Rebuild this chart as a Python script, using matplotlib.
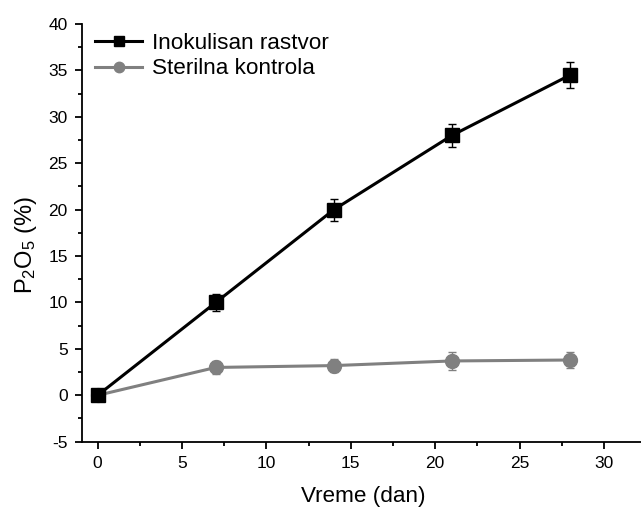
import matplotlib
matplotlib.use("Agg")
import matplotlib.pyplot as plt
from matplotlib.ticker import MultipleLocator, FuncFormatter
from matplotlib.lines import Line2D

plt.rcParams['font.family'] = ['Liberation Sans', 'DejaVu Sans']
plt.rcParams['mathtext.fontset'] = 'custom'
plt.rcParams['mathtext.rm'] = 'Liberation Sans'
plt.rcParams['mathtext.it'] = 'Liberation Sans'

days = [0, 7, 14, 21, 28]
inok = [0, 10, 20, 28, 34.5]
inok_err = [0, 0.9, 1.2, 1.2, 1.4]
ster = [0, 3, 3.2, 3.7, 3.8]
ster_err = [0, 0.7, 0.7, 1.0, 0.9]
labels = ["Inokulisan rastvor", "Sterilna kontrola"]

W, H = 641, 508
fig = plt.figure(figsize=(W/100, H/100), dpi=100)
left, right, top, bottom = 81.7, 641, 24, 441.7
ax = fig.add_axes([left/W, 1-bottom/H, (right-left)/W, (bottom-top)/H])

ax.errorbar(days, inok, yerr=inok_err, color='black', lw=2.2, marker='s', ms=9.5,
            capsize=3, elinewidth=1, ecolor='black', zorder=3)
ax.errorbar(days, ster, yerr=ster_err, color='#808080', lw=2.2, marker='o', ms=10,
            capsize=3, elinewidth=1, ecolor='#808080', zorder=2)

ax.set_xlim(-0.946, 32.2)
ax.set_ylim(-5, 40)
ax.xaxis.set_major_locator(MultipleLocator(5))
ax.xaxis.set_minor_locator(MultipleLocator(2.5))
ax.yaxis.set_major_locator(MultipleLocator(5))
ax.yaxis.set_minor_locator(MultipleLocator(2.5))
ax.tick_params(which='major', direction='out', length=5, width=1.3, labelsize=12.5, pad=5)
ax.tick_params(which='minor', direction='out', length=3, width=1.3)
for s in ('left', 'bottom'):
    ax.spines[s].set_linewidth(1.3)
ax.spines['top'].set_visible(False)
ax.spines['right'].set_visible(False)
ax.yaxis.set_major_formatter(FuncFormatter(lambda v, p: f"{v:g}"))

ax.set_xlabel("Vreme (dan)", fontsize=16.2)
ax.xaxis.set_label_coords(0.504, -0.106)
ax.set_ylabel(r"P$_{\mathrm{2}}$O$_{\mathrm{5}}$ (%)", fontsize=17)
ax.yaxis.set_label_coords(-0.076, 0.471)

handles = [
    Line2D([], [], color='black', lw=2.2, marker='s', ms=6.5),
    Line2D([], [], color='#808080', lw=2.2, marker='o', ms=7.5),
]
leg = ax.legend(handles, labels, loc='upper left', frameon=False, fontsize=16.2,
                handlelength=2.1, borderaxespad=0.0, handletextpad=0.44,
                labelspacing=0.2, bbox_to_anchor=(0.008, 1.0))

fig.savefig("out.png", dpi=100)
